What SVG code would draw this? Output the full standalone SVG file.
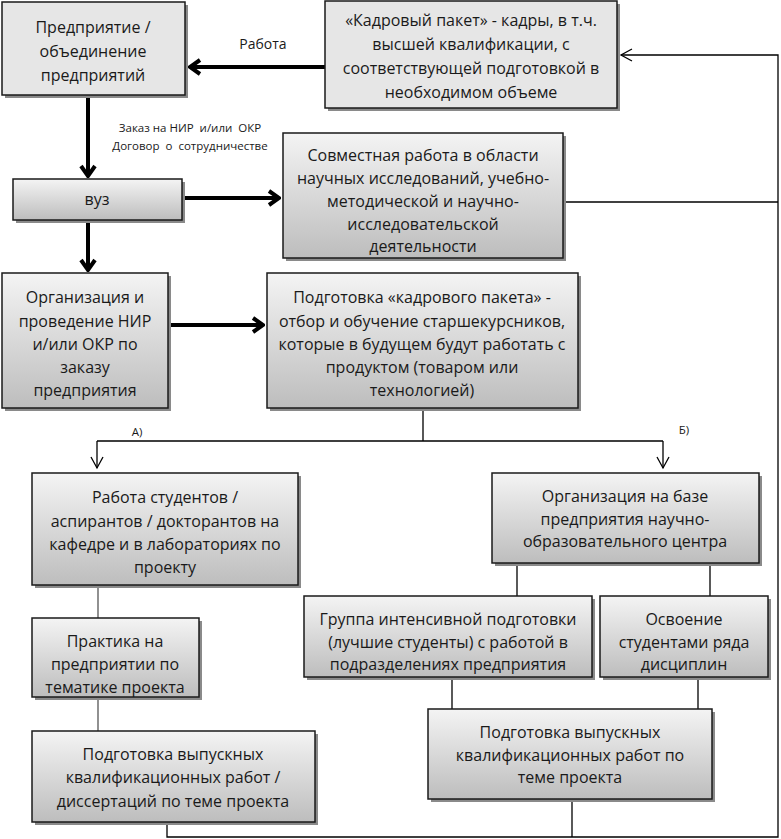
<svg xmlns="http://www.w3.org/2000/svg" width="781" height="839" viewBox="0 0 781 839">
<style>
.box{stroke:#1a1a1a;stroke-width:1.5;fill:url(#g)}
.flat{stroke:#1a1a1a;stroke-width:1.5;fill:#e6e6e6}
.sh{fill:#8a8a8a}
text{font-family:"Open Sans","Liberation Sans",sans-serif;font-size:16px;fill:#1a1a1a;text-anchor:middle}
.sm{font-size:11.5px}
.thick{stroke:#000;stroke-width:4;fill:none}
.thin{stroke:#000;stroke-width:1.3;fill:none}
.gray{stroke:#555;stroke-width:1.3;fill:none}
</style>
<defs>
<linearGradient id="g" x1="0" y1="0" x2="0" y2="1">
<stop offset="0" stop-color="#f4f4f4"/>
<stop offset="1" stop-color="#bdbdbd"/>
</linearGradient>
<marker id="ah" markerUnits="userSpaceOnUse" viewBox="-14 -10 16 20" refX="0" refY="0" markerWidth="16" markerHeight="20" orient="auto">
<path d="M-10,-7 L0,0 L-10,7" stroke="#000" stroke-width="4" fill="none"/>
</marker>
<marker id="at" markerUnits="userSpaceOnUse" viewBox="-12 -8 14 16" refX="0" refY="0" markerWidth="14" markerHeight="16" orient="auto">
<path d="M-11,-6 L0,0 L-11,6" stroke="#000" stroke-width="1.3" fill="none"/>
</marker>
</defs>
<rect width="781" height="839" fill="#fff"/>

<g id="connectors">
<line class="thick" x1="325" y1="67" x2="190" y2="67" marker-end="url(#ah)"/>
<line class="thick" x1="88" y1="96" x2="88" y2="176" marker-end="url(#ah)"/>
<line class="thick" x1="183" y1="198" x2="279" y2="198" marker-end="url(#ah)"/>
<line class="thick" x1="88" y1="221" x2="88" y2="270" marker-end="url(#ah)"/>
<line class="thick" x1="169" y1="325" x2="263" y2="325" marker-end="url(#ah)"/>
<path class="thin" d="M167,822 V837 H778 V55 H621" marker-end="url(#at)"/>
<line class="thin" x1="572" y1="799" x2="572" y2="837"/>
<line class="thin" x1="564" y1="202" x2="778" y2="202"/>
<path class="thin" d="M423,409 V441 M97,441 H663"/>
<line class="thin" x1="97" y1="441" x2="97" y2="468" marker-end="url(#at)"/>
<line class="thin" x1="663" y1="441" x2="663" y2="468" marker-end="url(#at)"/>
<line class="gray" x1="98" y1="586" x2="98" y2="618"/>
<line class="gray" x1="98" y1="698" x2="98" y2="731"/>
<line class="thin" x1="517" y1="564" x2="517" y2="596"/>
<line class="thin" x1="710" y1="564" x2="710" y2="596"/>
<line class="thin" x1="452" y1="678" x2="452" y2="709"/>
<line class="thin" x1="698" y1="678" x2="698" y2="709"/>
<text x="263" y="49" style="font-size:14px">Работа</text>
<text x="190" y="132" class="sm" xml:space="preserve">Заказ на НИР  и/или  ОКР</text>
<text x="190" y="150" class="sm" xml:space="preserve">Договор  о  сотрудничестве</text>
<text x="137" y="436" class="sm">А)</text>
<text x="684" y="434" class="sm">Б)</text>
</g>

<g id="n1">
<rect class="sh" x="5" y="5" width="183" height="93"/>
<rect class="flat" x="2" y="2" width="183" height="93"/>
<text x="93" y="33">Предприятие /</text>
<text x="93" y="57">объединение</text>
<text x="93" y="81">предприятий</text>
</g>

<g id="n2">
<rect class="sh" x="328" y="4" width="292" height="107"/>
<rect class="flat" x="325" y="1" width="292" height="107"/>
<text x="471" y="26">«Кадровый пакет» - кадры, в т.ч.</text>
<text x="471" y="50">высшей квалификации, с</text>
<text x="471" y="74">соответствующей подготовкой в</text>
<text x="471" y="98">необходимом объеме</text>
</g>

<g id="n3">
<rect class="sh" x="16" y="182" width="169" height="41"/>
<rect class="box" x="13" y="179" width="169" height="41"/>
<text x="97" y="205">вуз</text>
</g>

<g id="n4">
<rect class="sh" x="286" y="136" width="280" height="125"/>
<rect class="box" x="283" y="133" width="280" height="125"/>
<text x="423" y="161">Совместная работа в области</text>
<text x="423" y="184">научных исследований, учебно-</text>
<text x="423" y="207">методической и научно-</text>
<text x="423" y="230">исследовательской</text>
<text x="423" y="252">деятельности</text>
</g>

<g id="n5">
<rect class="sh" x="5" y="276" width="166" height="135"/>
<rect class="box" x="2" y="273" width="166" height="135"/>
<text x="85" y="303">Организация и</text>
<text x="85" y="327">проведение НИР</text>
<text x="85" y="350">и/или ОКР по</text>
<text x="85" y="373">заказу</text>
<text x="85" y="396">предприятия</text>
</g>

<g id="n6">
<rect class="sh" x="270" y="276" width="311" height="135"/>
<rect class="box" x="267" y="273" width="311" height="135"/>
<text x="422" y="303">Подготовка «кадрового пакета» -</text>
<text x="422" y="327">отбор и обучение старшекурсников,</text>
<text x="422" y="350">которые в будущем будут работать с</text>
<text x="422" y="373">продуктом (товаром или</text>
<text x="422" y="396">технологией)</text>
</g>

<g id="n7">
<rect class="sh" x="35" y="476" width="266" height="112"/>
<rect class="box" x="32" y="473" width="266" height="112"/>
<text x="165" y="503">Работа студентов /</text>
<text x="165" y="527">аспирантов / докторантов на</text>
<text x="165" y="550">кафедре и в лабораториях по</text>
<text x="165" y="573">проекту</text>
</g>

<g id="n8">
<rect class="sh" x="35" y="621" width="167" height="79"/>
<rect class="box" x="32" y="618" width="167" height="79"/>
<text x="115" y="647">Практика на</text>
<text x="115" y="670">предприятии по</text>
<text x="115" y="693">тематике проекта</text>
</g>

<g id="n9">
<rect class="sh" x="35" y="734" width="283" height="91"/>
<rect class="box" x="32" y="731" width="283" height="91"/>
<text x="173" y="760">Подготовка выпускных</text>
<text x="173" y="783">квалификационных работ /</text>
<text x="173" y="807">диссертаций по теме проекта</text>
</g>

<g id="n10">
<rect class="sh" x="495" y="476" width="267" height="90"/>
<rect class="box" x="492" y="473" width="267" height="90"/>
<text x="625" y="502">Организация на базе</text>
<text x="625" y="525">предприятия научно-</text>
<text x="625" y="547">образовательного центра</text>
</g>

<g id="n11">
<rect class="sh" x="307" y="599" width="288" height="81"/>
<rect class="box" x="304" y="596" width="288" height="81"/>
<text x="448" y="625">Группа интенсивной подготовки</text>
<text x="448" y="648">(лучшие студенты) с работой в</text>
<text x="448" y="670">подразделениях предприятия</text>
</g>

<g id="n12">
<rect class="sh" x="603" y="599" width="168" height="81"/>
<rect class="box" x="600" y="596" width="168" height="81"/>
<text x="684" y="625">Освоение</text>
<text x="684" y="648">студентами ряда</text>
<text x="684" y="670">дисциплин</text>
</g>

<g id="n13">
<rect class="sh" x="431" y="712" width="284" height="90"/>
<rect class="box" x="428" y="709" width="284" height="90"/>
<text x="570" y="738">Подготовка выпускных</text>
<text x="570" y="761">квалификационных работ по</text>
<text x="570" y="783">теме проекта</text>
</g>
</svg>
